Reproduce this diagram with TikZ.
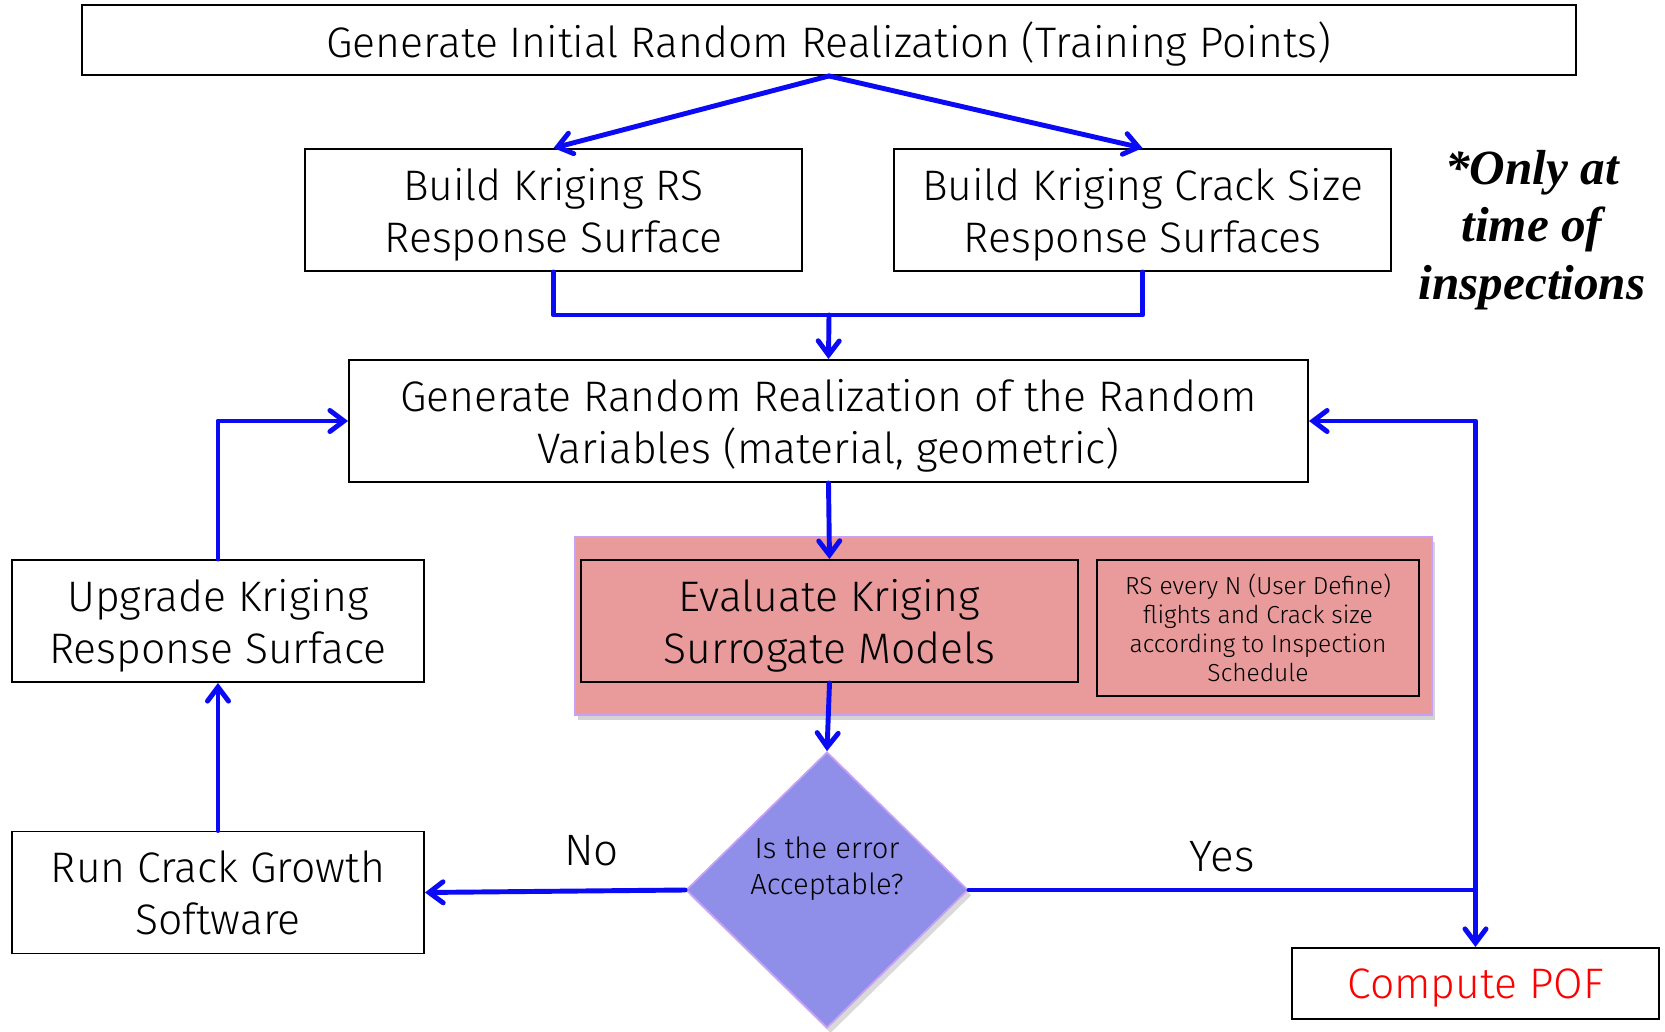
\documentclass[tikz,border=0pt]{standalone}
\usepackage{fontspec}
\setmainfont{Fira Sans Light}
\newfontfamily\notefont{Liberation Serif}
\usetikzlibrary{positioning,shapes.geometric,arrows.meta,shadows}

\definecolor{flowblue}{RGB}{10,10,245}
\definecolor{evalred}{RGB}{233,154,155}
\definecolor{checkblue}{RGB}{143,143,234}
\definecolor{edgeviolet}{RGB}{200,160,245}

\tikzset{
  stepbox/.style={draw, line width=1.1pt, minimum width=9.94cm, minimum height=2.44cm,
    align=center, font=\fontsize{24.3}{29.6}\selectfont, inner sep=2pt, text depth=0pt},
  flow/.style={draw=flowblue, line width=2.8pt, line cap=round, line join=round},
  flowarrow/.style={flow, -{Straight Barb[length=8pt,width=12pt,line cap=round]}},
  answer/.style={font=\fontsize{25}{30}\selectfont},
}

\begin{document}
\begin{tikzpicture}
  \useasboundingbox (0,0) rectangle (33.3,-20.64);

  \node[stepbox, minimum width=29.88cm, minimum height=1.4cm] (init) at (16.58,-0.8)
    {Generate Initial Random Realization (Training Points)};
  \node[stepbox] (rsbuild) at (11.07,-4.2) {Build Kriging RS\\Response Surface};
  \node[stepbox] (crackbuild) at (22.85,-4.2) {Build Kriging Crack Size\\Response Surfaces};
  \node[font=\notefont\bfseries\itshape\fontsize{28}{32.6}\selectfont, align=center] (note)
    at (30.64,-4.6) {*Only at\\time of\\inspections};

  \node[stepbox, minimum width=19.18cm] (genrv) at (16.57,-8.42)
    {Generate Random Realization of the Random\\Variables (material, geometric)};

  % surrogate block on its shaded panel
  \fill[evalred, draw=edgeviolet, line width=1pt,
    drop shadow={shadow xshift=1.5pt, shadow yshift=-3pt, opacity=0.35}]
    (11.5,-10.74) rectangle (28.64,-14.3);
  \node[stepbox] (evaluate) at (16.59,-12.42) {Evaluate Kriging\\Surrogate Models};
  \node[stepbox, minimum width=6.44cm, minimum height=2.72cm,
    font=\fontsize{14}{16.5}\selectfont, text depth={}] (schedule) at (25.16,-12.56)
    {RS every N (User Define)\\flights and Crack size\\according to Inspection\\Schedule};

  \node[stepbox, minimum width=8.24cm] (upgrade) at (4.36,-12.42)
    {Upgrade Kriging\\Response Surface};
  \node[stepbox, minimum width=8.24cm] (runcrack) at (4.36,-17.85)
    {Run Crack Growth\\Software};

  \node[diamond, fill=checkblue, draw=edgeviolet, line width=1pt,
    minimum width=5.64cm, minimum height=5.52cm, inner sep=0pt,
    drop shadow={shadow xshift=2pt, shadow yshift=-3pt, opacity=0.3},
    label={[font=\fontsize{16.6}{20.5}\selectfont, align=center, yshift=0.42cm]center:Is the error\\Acceptable?}]
    (check) at (16.54,-17.8) {};

  \node[stepbox, minimum width=7.34cm, minimum height=1.42cm, text=red] (pof)
    at (29.51,-19.67) {Compute POF};

  \coordinate (join) at (16.58,-6.3);
  \coordinate (turn) at (29.51,-17.8);

  \draw[flowarrow] (init.south) -- (rsbuild.north);
  \draw[flowarrow] (init.south) -- (crackbuild.north);
  \draw[flow] (rsbuild.south) |- (join) -| (crackbuild.south);
  \draw[flowarrow] (join) -- (genrv.north);
  \draw[flowarrow] (genrv.south) -- (evaluate.north);
  \draw[flowarrow] (evaluate.south) -- (check.north);
  \draw[flowarrow] (check.west) -- node[answer, pos=0.36, yshift=0.8cm] {No} (runcrack.east);
  \draw[flow] (check.east) -- node[answer, pos=0.5, yshift=0.66cm] {Yes} (turn);
  \draw[flowarrow] (turn) |- (genrv.east);
  \draw[flowarrow] (turn) -- (pof.north);
  \draw[flowarrow] (runcrack.north) -- (upgrade.south);
  \draw[flowarrow] (upgrade.north) |- (genrv.west);
\end{tikzpicture}
\end{document}
